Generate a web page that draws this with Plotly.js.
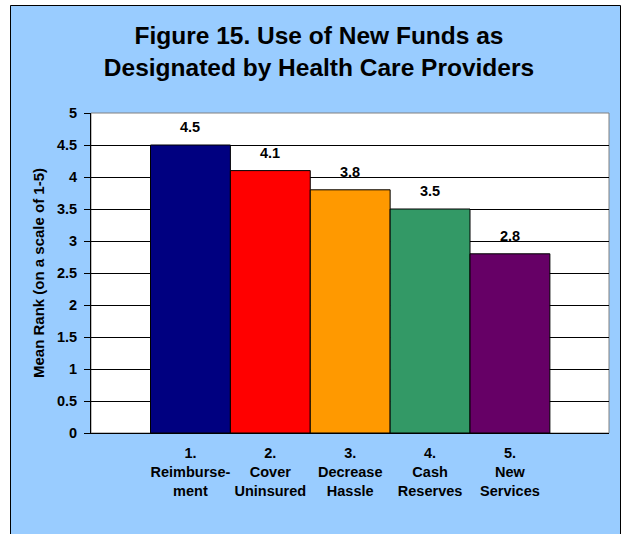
<!DOCTYPE html>
<html>
<head>
<meta charset="utf-8">
<script src="https://cdn.plot.ly/plotly-3.0.1.min.js"></script>
<style>
html,body{margin:0;padding:0;background:#fff;}
#chart{width:622px;height:534px;}
</style>
</head>
<body>
<div id="chart"></div>
<script>
const categories = ["1.<br>Reimburse-<br>ment", "2.<br>Cover<br>Uninsured", "3.<br>Decrease<br>Hassle", "4.<br>Cash<br>Reserves", "5.<br>New<br>Services"];
const values = [4.5, 4.1, 3.8, 3.5, 2.8];
const valueLabels = ["4.5", "4.1", "3.8", "3.5", "2.8"];
const barColors = ["#000080", "#FF0000", "#FF9900", "#339966", "#660066"];

const positions = categories.map((c, i) => i);
const FONT = '"Liberation Sans", Arial, sans-serif';

const trace = {
  type: 'bar',
  x: positions,
  y: values,
  width: 1,
  marker: {color: barColors, line: {color: '#000', width: 1}},
  hoverinfo: 'skip',
  showlegend: false
};

const annotations = values.map((v, i) => ({
  x: positions[i], y: v, xref: 'x', yref: 'y',
  text: valueLabels[i], showarrow: false,
  yanchor: 'bottom', yshift: 8,
  font: {family: FONT, size: 14.5, color: '#000', weight: 700}
}));

const layout = {
  width: 622, height: 534,
  margin: {l: 91, r: 13, t: 113, b: 101, pad: 0},
  paper_bgcolor: '#ffffff',
  plot_bgcolor: 'rgba(0,0,0,0)',
  font: {family: FONT, color: '#000', weight: 700},
  title: {
    text: 'Figure 15. Use of New Funds as<br>Designated by Health Care Providers',
    font: {family: FONT, size: 24.5, color: '#000', weight: 700},
    xref: 'container', x: 319/622, xanchor: 'center',
    yref: 'container', y: 1 - 44/534, yanchor: 'middle'
  },
  xaxis: {
    range: [-1.245, 5.24],
    tickmode: 'array', tickvals: positions, ticktext: categories,
    ticks: '', showgrid: false, zeroline: false,
    showline: true, linecolor: '#000', linewidth: 1, mirror: false,
    tickfont: {family: FONT, size: 14.5, color: '#000', weight: 700},
    ticklabelstandoff: 7,
    fixedrange: true
  },
  yaxis: {
    range: [0, 5], dtick: 0.5, tick0: 0,
    ticks: 'outside', ticklen: 6, tickcolor: '#000', tickwidth: 1,
    showgrid: true, gridcolor: '#000', gridwidth: 1,
    zeroline: false,
    showline: true, linecolor: '#000', linewidth: 1,
    tickfont: {family: FONT, size: 14.5, color: '#000', weight: 700},
    ticklabelstandoff: 4,
    title: {text: 'Mean Rank (on a scale of 1-5)', font: {family: FONT, size: 15, color: '#000', weight: 700}, standoff: 8},
    fixedrange: true
  },
  shapes: [
    {type: 'rect', xref: 'paper', yref: 'paper', layer: 'below',
     x0: (10.5-91)/518, x1: (620.5-91)/518, y0: (433-545)/320, y1: (433-5.5)/320,
     fillcolor: '#99CCFF', line: {color: '#000', width: 1}},
    {type: 'rect', xref: 'paper', yref: 'paper', layer: 'below',
     x0: 0, x1: 1, y0: 0, y1: 1,
     fillcolor: '#ffffff', line: {color: '#808080', width: 1}}
  ],
  annotations: annotations
};

Plotly.newPlot('chart', [trace], layout, {staticPlot: true, displayModeBar: false});
</script>
</body>
</html>
